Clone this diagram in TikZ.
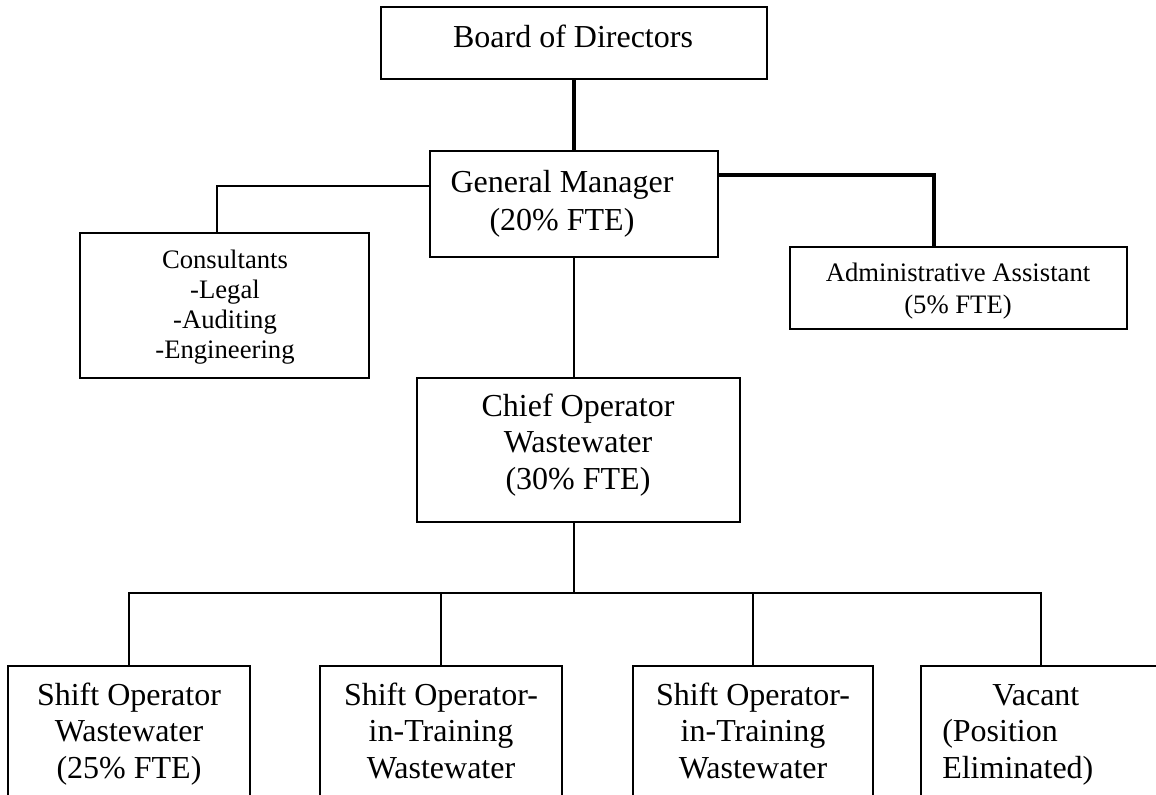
\documentclass[tikz,border=0pt]{standalone}
\usepackage{fontspec}
\setmainfont{Liberation Serif}
\usetikzlibrary{fit}
\renewcommand\arraystretch{1}
\tikzset{
  box/.style={draw, line width=1.6pt, inner sep=0pt, rectangle},
  conn/.style={line width=1.4pt},
  connthick/.style={line width=2.6pt},
  lbl/.style={inner sep=0pt, anchor=base},
  bigfont/.style={font=\fontsize{24}{27.5}\selectfont},
  gmfont/.style={font=\fontsize{24}{28.5}\selectfont},
  consfont/.style={font=\fontsize{20}{22.5}\selectfont},
  adminfont/.style={font=\fontsize{20}{24}\selectfont},
}
\begin{document}
\begin{tikzpicture}[x=0.75pt,y=-0.75pt]
\useasboundingbox (0,0) rectangle (1156,795);
\clip (0,0) rectangle (1156,795);
\fill[white] (0,0) rectangle (1156,795);

% boxes
\node[box, fit={(381,7) (767,79)}] (board) {};
\node[box, fit={(430,151) (718,257)}] (gm) {};
\node[box, fit={(80,233) (369,378)}] (cons) {};
\node[box, fit={(790,247) (1127,329)}] (admin) {};
\node[box, fit={(417,378) (740,522)}] (chief) {};
\node[box, fit={(8,666) (250,830)}] (s1) {};
\node[box, fit={(320,666) (562,830)}] (s2) {};
\node[box, fit={(633,666) (873,830)}] (s3) {};
\node[box, fit={(921,666) (1161,830)}] (s4) {};

% texts
\node[lbl, bigfont] (boardt) at (573,48) {\begin{tabular}[t]{@{}c@{}}Board of Directors\end{tabular}};
\node[lbl, gmfont] (gmt) at (562,192) {\begin{tabular}[t]{@{}c@{}}General Manager\\(20\% FTE)\end{tabular}};
\node[lbl, consfont] (const) at (225,268) {\begin{tabular}[t]{@{}c@{}}Consultants\\-Legal\\-Auditing\\-Engineering\end{tabular}};
\node[lbl, adminfont] (admint) at (958,281) {\begin{tabular}[t]{@{}c@{}}Administrative Assistant\\(5\% FTE)\end{tabular}};
\node[lbl, bigfont] (chieft) at (578,416) {\begin{tabular}[t]{@{}c@{}}Chief Operator\\Wastewater\\(30\% FTE)\end{tabular}};
\node[lbl, bigfont] (s1t) at (129,705) {\begin{tabular}[t]{@{}c@{}}Shift Operator\\Wastewater\\(25\% FTE)\end{tabular}};
\node[lbl, bigfont] (s2t) at (441,705) {\begin{tabular}[t]{@{}c@{}}Shift Operator-\\in-Training\\Wastewater\end{tabular}};
\node[lbl, bigfont] (s3t) at (753,705) {\begin{tabular}[t]{@{}c@{}}Shift Operator-\\in-Training\\Wastewater\end{tabular}};
\node[lbl, bigfont, anchor=base west] (s4t) at (942,705) {\begin{tabular}[t]{@{}l@{}}\hspace*{37.5pt}Vacant\\(Position\\Eliminated)\end{tabular}};

% connectors
\coordinate (cj) at (217,186);
\coordinate (aj) at (934,175);
\coordinate (hj) at (575,593);
\draw[connthick] (board.south) -- (gm.north);
\draw[conn] (gm.west |- cj) -- (cj) -- (cj |- cons.north);
\draw[connthick] (gm.east |- aj) -- (aj) -- (aj |- admin.north);
\draw[conn] (gm.south) -- (gm.south |- chief.north);
\draw[conn] (chief.south -| gm.south) -- (gm.south |- hj);
\draw[conn] (s1.north) -- (s1.north |- hj) -- (s4.north |- hj) -- (s4.north);
\draw[conn] (s2.north |- hj) -- (s2.north);
\draw[conn] (s3.north |- hj) -- (s3.north);
\end{tikzpicture}
\end{document}
